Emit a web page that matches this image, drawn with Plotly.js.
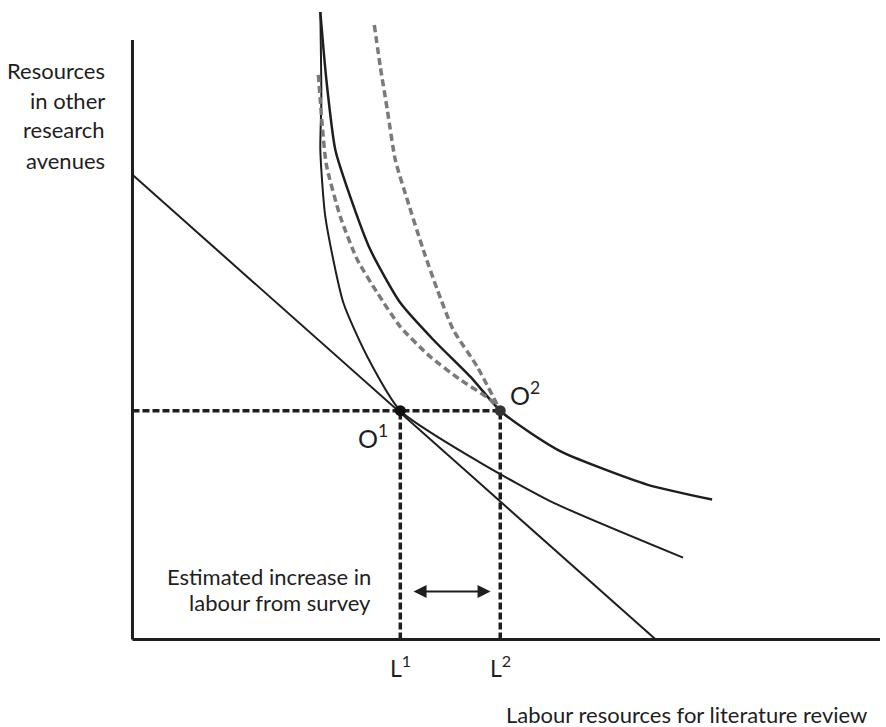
<!DOCTYPE html>
<html>
<head>
<meta charset="utf-8">
<script src="https://cdn.plot.ly/plotly-3.0.1.min.js"></script>
<style>html,body{margin:0;padding:0;background:#fff;}#chart{width:886px;height:727px;}</style>
</head>
<body>
<div id="chart"></div>
<script>
// Budget line (resource constraint)
const budgetX = [0, 7.0];
const budgetY = [6.2, 0];

// Indifference curve through O1 (solid, inner)
const curveAX = [2.513, 2.527, 2.513, 2.580, 2.821, 3.142, 3.583, 4.652, 5.628, 7.366];
const curveAY = [8.373, 7.2, 6.533, 5.640, 4.493, 3.773, 3.053, 2.360, 1.827, 1.093];

// Indifference curve through O2 (solid, outer)
const curveBX = [2.513, 2.594, 2.714, 2.928, 3.182, 3.583, 4.024, 4.519, 4.920, 5.321, 5.762, 6.885, 7.754];
const curveBY = [8.373, 7.467, 6.533, 5.867, 5.200, 4.493, 4.000, 3.507, 3.053, 2.760, 2.493, 2.067, 1.867];

// Grey dashed curve (inner)
const dashAX = [2.487, 2.540, 2.594, 2.781, 3.008, 3.275, 3.583, 3.984, 4.385, 4.786, 4.920];
const dashAY = [7.533, 6.840, 6.333, 5.640, 5.067, 4.627, 4.173, 3.773, 3.467, 3.200, 3.053];

// Grey dashed curve (outer)
const dashBX = [3.235, 3.316, 3.409, 3.516, 3.676, 3.890, 4.078, 4.291, 4.612, 4.920];
const dashBY = [8.200, 7.640, 7.067, 6.400, 5.867, 5.200, 4.667, 4.133, 3.640, 3.053];

// Optimum points
const O1 = [3.583, 3.053];
const O2 = [4.920, 3.053];

// Axis extents
const xAxisLen = 10;
const yAxisLen = 8.0;

// Labels
const yTitleLines = ["Resources", "in other", "research", "avenues"];
const xTitle = "Labour resources for literature review";
const surveyLines = ["Estimated increase in", "labour from survey"];
const pointLabels = ["O<sup>1</sup>", "O<sup>2</sup>"];
const lLabels = ["L<sup>1</sup>", "L<sup>2</sup>"];

const FONT = "Lato, 'Open Sans', sans-serif";
const ink = "#1e1e1e";

const traces = [
  // axes
  {x: [0, 0], y: [0, yAxisLen], mode: "lines", line: {color: ink, width: 3}, hoverinfo: "skip"},
  {x: [0, xAxisLen], y: [0, 0], mode: "lines", line: {color: ink, width: 3}, hoverinfo: "skip"},
  // budget line
  {x: budgetX, y: budgetY, mode: "lines", line: {color: ink, width: 2}},
  // curves
  {x: curveAX, y: curveAY, mode: "lines", line: {color: ink, width: 2, shape: "spline", smoothing: 0.6}},
  {x: curveBX, y: curveBY, mode: "lines", line: {color: ink, width: 2.5, shape: "spline", smoothing: 0.6}},
  {x: dashAX, y: dashAY, mode: "lines", line: {color: "#7a7a7a", width: 3.5, dash: "7px,4px", shape: "spline", smoothing: 0.6}},
  {x: dashBX, y: dashBY, mode: "lines", line: {color: "#7a7a7a", width: 3.5, dash: "7px,4px", shape: "spline", smoothing: 0.6}},
  // guide lines
  {x: [0, O2[0]], y: [O1[1], O2[1]], mode: "lines", line: {color: ink, width: 3.5, dash: "7px,3px"}},
  {x: [O1[0], O1[0]], y: [0, O1[1]], mode: "lines", line: {color: ink, width: 3.5, dash: "7px,3px"}},
  {x: [O2[0], O2[0]], y: [0, O2[1]], mode: "lines", line: {color: ink, width: 3.5, dash: "7px,3px"}},
  // points
  {x: [O1[0]], y: [O1[1]], mode: "markers", marker: {color: "#111", size: 11}},
  {x: [O2[0]], y: [O2[1]], mode: "markers", marker: {color: "#333", size: 11}}
];

const ann = [];
const txt = (size) => ({size: size, color: ink, family: FONT});
const yTitleY = [0.905, 0.858, 0.812, 0.763];
yTitleLines.forEach((t, i) => ann.push({x: -0.0232, y: yTitleY[i], xref: "paper", yref: "paper", text: t, showarrow: false, xanchor: "right", yanchor: "middle", font: txt(22)}));
ann.push({x: 0.7432, y: -0.1059, xref: "paper", yref: "paper", text: xTitle, showarrow: false, xanchor: "center", yanchor: "middle", font: txt(22)});
ann.push({x: 0.3646, y: -0.0306, xref: "paper", yref: "paper", text: lLabels[0], showarrow: false, xanchor: "center", yanchor: "middle", font: txt(23)});
ann.push({x: 0.4970, y: -0.0306, xref: "paper", yref: "paper", text: lLabels[1], showarrow: false, xanchor: "center", yanchor: "middle", font: txt(23)});
ann.push({x: 3.222, y: 2.707, xref: "x", yref: "y", text: pointLabels[0], showarrow: false, xanchor: "center", yanchor: "middle", font: txt(25)});
ann.push({x: 5.254, y: 3.28, xref: "x", yref: "y", text: pointLabels[1], showarrow: false, xanchor: "center", yanchor: "middle", font: txt(25)});
const surveyY = [0.84, 0.493];
surveyLines.forEach((t, i) => ann.push({x: 3.222, y: surveyY[i], xref: "x", yref: "y", text: t, showarrow: false, xanchor: "right", yanchor: "middle", font: txt(22)}));
// double-headed arrow
ann.push({x: 4.79, y: 0.64, ax: 3.74, ay: 0.64, xref: "x", yref: "y", axref: "x", ayref: "y", text: "", showarrow: true, arrowside: "end+start", arrowhead: 2, arrowsize: 1.3, arrowwidth: 2, arrowcolor: ink});

const layout = {
  width: 886, height: 727,
  margin: {l: 124.52, r: 6, t: 10, b: 79.5, pad: 0},
  paper_bgcolor: "#fff", plot_bgcolor: "#fff",
  showlegend: false,
  xaxis: {range: [-0.1, 10], showgrid: false, zeroline: false, showticklabels: false, showline: false, ticks: "", fixedrange: true},
  yaxis: {range: [-0.1, 8.4], showgrid: false, zeroline: false, showticklabels: false, showline: false, ticks: "", fixedrange: true},
  annotations: ann
};

Plotly.newPlot("chart", traces, layout, {displayModeBar: false, staticPlot: true});
</script>
</body>
</html>
